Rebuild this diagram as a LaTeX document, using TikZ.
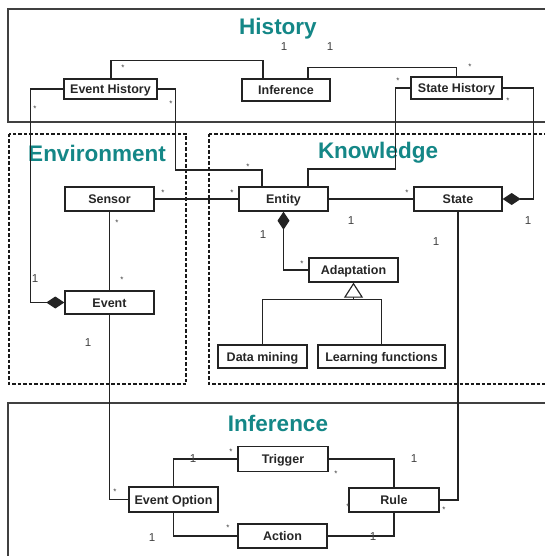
\documentclass[tikz,border=0pt]{standalone}
\usepackage{fontspec}
\setmainfont{Liberation Sans}
\usetikzlibrary{arrows.meta,calc}
\definecolor{teal1}{RGB}{20,135,135}
\definecolor{ink}{RGB}{35,35,35}
\begin{document}
\begin{tikzpicture}[x=1pt,y=-1pt,
 cls/.style={draw=ink, line width=1.3pt, fill=white, inner sep=0pt, text height=9pt, text depth=0pt, font=\fontsize{12.5}{14}\selectfont\bfseries, text=black!85},
 conn/.style={draw=ink, line width=1.15pt},
 frame/.style={draw=black!75, line width=1.5pt},
 dframe/.style={draw=black!90, line width=1.2pt, dash pattern=on 3.5pt off 2pt},
 title/.style={font=\fontsize{22.5}{26}\selectfont\bfseries, text=teal1},
 one/.style={font=\fontsize{11.5}{13}\selectfont, text=black!75, inner sep=0pt},
 many/.style={font=\fontsize{8}{9}\selectfont, text=black!75, inner sep=0pt},
 compend/.style={-{Diamond[length=18pt,width=12pt]}},
 compstart/.style={{Diamond[length=18pt,width=12pt]}-},
 genend/.style={-{Triangle[open,length=15pt,width=19pt,fill=white]}},
 ]
\useasboundingbox (0,0) rectangle (545,556);
\clip (0,0) rectangle (545,556);
\fill[white] (0,0) rectangle (545,556);
% frames
\draw[frame] (8,9) rectangle (560,122);
\draw[frame] (8,403) rectangle (560,570);
\draw[dframe] (9,134) rectangle (186,384);
\draw[dframe] (209,134) rectangle (560,384);
% titles
\node[title] (tHist) at (278,29) {History};
\node[title] (tEnv) at (97,153) {Environment};
\node[title] (tKnow) at (378,153) {Knowledge};
\node[title] (tInf) at (278,423) {Inference};
% classes
\node[cls, minimum width=93pt, minimum height=20pt] (eh) at (110.5,89) {Event History};
\node[cls, minimum width=88pt, minimum height=22pt] (hinf) at (286,90) {Inference};
\node[cls, minimum width=91pt, minimum height=22pt] (sh) at (456.5,88) {State History};
\node[cls, minimum width=89pt, minimum height=24pt] (se) at (109.5,199) {Sensor};
\node[cls, minimum width=89pt, minimum height=24pt] (en) at (283.5,199) {Entity};
\node[cls, minimum width=88pt, minimum height=24pt] (st) at (458,199) {State};
\node[cls, minimum width=89pt, minimum height=24pt] (ad) at (353.5,270) {Adaptation};
\node[cls, minimum width=89pt, minimum height=23pt] (dm) at (262.5,356.5) {Data mining};
\node[cls, minimum width=127pt, minimum height=23pt] (lf) at (381.5,356.5) {Learning functions};
\node[cls, minimum width=89pt, minimum height=23pt] (ev) at (109.5,302.5) {Event};
\node[cls, minimum width=90pt, minimum height=25pt] (tr) at (283,459) {Trigger};
\node[cls, minimum width=89pt, minimum height=25pt] (eo) at (173.5,499.5) {Event Option};
\node[cls, minimum width=90pt, minimum height=24pt] (ru) at (394,500) {Rule};
\node[cls, minimum width=89pt, minimum height=24pt] (ac) at (282.5,536) {Action};
% connectors
\draw[conn] ([xshift=0.5pt]eh.north) -- ++(0,-18) -| ([xshift=-23pt]hinf.north);
\draw[conn] ([xshift=22pt]hinf.north) -- ++(0,-11) -| (sh.north);
\draw[conn, compend] (eh.west) -- ++(-33,0) |- (ev.west);
\draw[conn] (eh.east) -- ++(18,0) -- ++(0,81) -| ([xshift=-21.5pt]en.north);
\draw[conn] (sh.west) -- ++(-15,0) -- ++(0,81) -| ([xshift=24.5pt]en.north);
\draw[conn, compend] (sh.east) -- ++(31,0) |- (st.east);
\draw[conn] (se.east) -- (en.west);
\draw[conn] (en.east) -- (st.west);
\draw[conn] (se.south) -- (ev.north);
\draw[conn] (ev.south) |- (eo.west);
\draw[conn, compstart] (en.south) |- (ad.west);
\draw[conn] (dm.north) -- ++(0,-45) -| (lf.north);
\draw[conn, genend] ($(ad.south |- dm.north)+(0,-45)$) -- (ad.south);
\draw[conn] (eo.north) |- (tr.west);
\draw[conn] (tr.east) -| (ru.north);
\draw[conn] (eo.south) |- (ac.west);
\draw[conn] (ac.east) -| (ru.south);
\draw[conn] (st.south) |- (ru.east);
% multiplicities
\node[one] (m1) at (284,47) {1};
\node[one] (m2) at (330,47) {1};
\node[many] (m3) at (123,68) {*};
\node[many] (m4) at (470,67) {*};
\node[many] (m5) at (35,109) {*};
\node[many] (m6) at (171,104) {*};
\node[many] (m7) at (398,81) {*};
\node[many] (m8) at (508,101) {*};
\node[many] (m9) at (248,167) {*};
\node[many] (m10) at (163,193) {*};
\node[many] (m11) at (232,193) {*};
\node[many] (m12) at (407,193) {*};
\node[one] (m13) at (351,221) {1};
\node[one] (m14) at (528,221) {1};
\node[one] (m15) at (436,242) {1};
\node[one] (m16) at (263,235) {1};
\node[many] (m17) at (302,264) {*};
\node[many] (m18) at (117,223) {*};
\node[many] (m19) at (122,280) {*};
\node[one] (m20) at (35,279) {1};
\node[one] (m21) at (88,343) {1};
\node[many] (m22) at (115,492) {*};
\node[one] (m23) at (193,459) {1};
\node[many] (m24) at (231,452) {*};
\node[many] (m25) at (336,474) {*};
\node[one] (m26) at (414,459) {1};
\node[one] (m27) at (152,538) {1};
\node[many] (m28) at (228,528) {*};
\node[one] (m29) at (373,537) {1};
\node[many] (m30) at (444,510) {*};
\node[many] (m31) at (348,507) {*};
\end{tikzpicture}
\end{document}
